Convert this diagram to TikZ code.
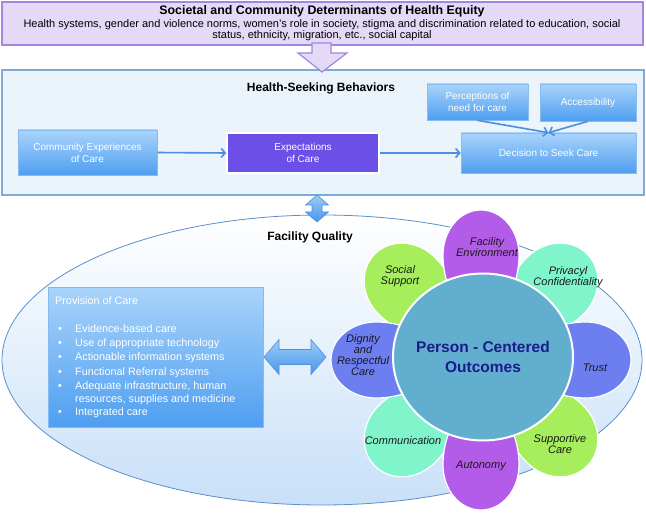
\documentclass[tikz,border=0pt]{standalone}
\usepackage{fontspec}
\setmainfont{Liberation Sans}
\usetikzlibrary{arrows.meta,shapes.geometric,calc}
\definecolor{lavfill}{HTML}{E4DAF8}
\definecolor{lavdraw}{HTML}{A186E2}
\definecolor{hsbfill}{HTML}{EBF3FB}
\definecolor{hsbdraw}{HTML}{7EAADB}
\definecolor{btop}{HTML}{A9D4FB}
\definecolor{bbot}{HTML}{4E9EF0}
\definecolor{bdraw}{HTML}{86BAF0}
\definecolor{expfill}{HTML}{6B4FE7}
\definecolor{flowc}{HTML}{4A8FE0}
\definecolor{ellfill}{HTML}{C8E0F8}
\definecolor{elldraw}{HTML}{5A8FCF}
\definecolor{ppurple}{HTML}{B45CEA}
\definecolor{pmint}{HTML}{80F5CB}
\definecolor{pviolet}{HTML}{6D7EF1}
\definecolor{plime}{HTML}{A6EE5B}
\definecolor{pcenter}{HTML}{62AECE}
\definecolor{pcotext}{HTML}{1B1A8E}
\definecolor{arrtop}{HTML}{9ACDF8}
\definecolor{arrbot}{HTML}{4A95EA}
\definecolor{arrdraw}{HTML}{4F8FDB}
\newcommand\fsz[2]{\fontsize{#1}{#2}\selectfont}
% #1 angle, #2 colour, #3 half width
\newcommand\mypetal[3]{%
  \begin{scope}[shift={(481,360)},rotate=#1]
    \draw[petalshape,fill=#2] (45pt,0pt) .. controls (45pt,0.552*#3pt) and (72pt,#3pt) .. (105pt,#3pt)
      .. controls (130pt,#3pt) and (150pt,0.552*#3pt) .. (150pt,0pt)
      .. controls (150pt,-0.552*#3pt) and (130pt,-#3pt) .. (105pt,-#3pt)
      .. controls (72pt,-#3pt) and (45pt,-0.552*#3pt) .. (45pt,0pt) -- cycle;
  \end{scope}}
\begin{document}
\begin{tikzpicture}[x=1pt,y=-1pt,
  bluebox/.style={rectangle,draw=bdraw,line width=0.6pt,top color=btop,bottom color=bbot,
    text=white,font=\fsz{10}{12},align=center,inner sep=0pt},
  flow/.style={draw=flowc,line width=1.6pt,-{Straight Barb[length=4pt,width=9pt,line width=1.6pt]}},
  petalshape/.style={draw=white,line width=1.2pt},
  plabel/.style={font=\itshape\fsz{11}{11},align=center,inner sep=0pt,text=black!90},
  blockarrow/.style={draw=arrdraw,line width=0.6pt,top color=arrtop,bottom color=arrbot}]
\useasboundingbox (0,0) rectangle (646,516);
\fill[white] (0,0) rectangle (646,516);

% top box
\node[rectangle,draw=lavdraw,line width=1.6pt,fill=lavfill,minimum width=641pt,minimum height=43pt,inner sep=0pt] (top) at (322.5,23.5) {};
\node[font=\bfseries\fsz{12.4}{14},inner sep=0pt] (toptitle) at (322,11) {Societal and Community Determinants of Health Equity};
\node[font=\fsz{11}{11},align=center,inner sep=0pt] (toptext) at (322,30.5) {Health systems, gender and violence norms, women's role in society, stigma and discrimination related to education, social\\status, ethnicity, migration, etc., social capital};

% health seeking box
\node[rectangle,draw=hsbdraw,line width=1.2pt,fill=hsbfill,minimum width=642pt,minimum height=125pt,inner sep=0pt] (hsb) at (323,132.5) {};
\draw[draw=lavdraw,line width=1.2pt,fill=lavfill] (312,43) -- (331,43) -- (331,53) -- (347,53) -- (322,72) -- (298,53) -- (312,53) -- cycle;
\node[font=\bfseries\fsz{12}{14},inner sep=0pt] (hsbtitle) at (321,88) {Health-Seeking Behaviors};
\node[bluebox,minimum width=101pt,minimum height=36pt] (perc) at (477.5,102) {Perceptions of\\need for care};
\node[bluebox,minimum width=96pt,minimum height=37pt] (acc) at (588,102.5) {Accessibility};
\node[bluebox,minimum width=139pt,minimum height=45pt] (com) at (87.5,152.5) {Community Experiences\\of Care};
\node[rectangle,draw=white,line width=1.5pt,fill=expfill,text=white,font=\fsz{10}{12},align=center,inner sep=0pt,minimum width=152pt,minimum height=40pt] (exp) at (303,153) {Expectations\\of Care};
\node[bluebox,minimum width=175pt,minimum height=40pt] (dec) at (548.5,153) {Decision to Seek Care};
\draw[flow] (com.east) -- (exp.west);
\draw[flow] (exp.east) -- (dec.west);
\draw[flow] (perc.south) -- (dec.north);
\draw[flow] (acc.south) -- (dec.north);

% facility quality ellipse
\node[ellipse,draw=elldraw,line width=0.8pt,top color=white,bottom color=ellfill,minimum width=640pt,minimum height=290pt,inner sep=0pt] (fq) at (322,360) {};
\draw[blockarrow] (317,195) -- (328.5,205) -- (322,205) -- (322,212) -- (328.5,212) -- (317,222) -- (305.5,212) -- (312,212) -- (312,205) -- (305.5,205) -- cycle;
\node[font=\bfseries\fsz{12}{14},inner sep=0pt] (fqtitle) at (310,237) {Facility Quality};

% provision of care
\node[rectangle,draw=bdraw,line width=0.6pt,top color=btop,bottom color=bbot,minimum width=215pt,minimum height=140pt,inner sep=0pt] (prov) at (155.5,357) {};
\node[anchor=north west,text=white,font=\fsz{10.8}{14.3},align=left,inner sep=0pt] (provtext) at (55,296) {Provision of Care\\[14pt]
\makebox[20pt][l]{\hspace{3pt}•}Evidence-based care\\
\makebox[20pt][l]{\hspace{3pt}•}Use of appropriate technology\\
\makebox[20pt][l]{\hspace{3pt}•}Actionable information systems\\
\makebox[20pt][l]{\hspace{3pt}•}Functional Referral systems\\
\makebox[20pt][l]{\hspace{3pt}•}Adequate infrastructure, human\\[-1.3pt]
\makebox[20pt][l]{}resources, supplies and medicine\\[-1.3pt]
\makebox[20pt][l]{\hspace{3pt}•}Integrated care};
\draw[blockarrow] (264,357) -- (279,339.5) -- (279,349.5) -- (311,349.5) -- (311,339.5) -- (326,357) -- (311,374.5) -- (311,364.5) -- (279,364.5) -- (279,374.5) -- cycle;

% petals
\mypetal{135}{plime}{40}
\mypetal{45}{pmint}{40}
\mypetal{-45}{plime}{40}
\mypetal{-135}{pmint}{40}
\mypetal{90}{ppurple}{38}
\mypetal{0}{pviolet}{38}
\mypetal{-90}{ppurple}{38}
\mypetal{180}{pviolet}{38}

\node[ellipse,draw=white,line width=2pt,fill=pcenter,minimum width=180pt,minimum height=167pt,inner sep=0pt] (pco) at (483,357) {};
\node[font=\bfseries\fsz{15.5}{20},text=pcotext,align=center,inner sep=0pt] (pcotxt) at (483,357) {Person - Centered\\Outcomes};

\node[plabel] (lfac) at (487,247) {Facility\\Environment};
\node[plabel] (lpriv) at (568,277) {Privacyl\\Confidentiality};
\node[plabel] (lsoc) at (400,276) {Social\\Support};
\node[plabel] (ldig) at (363,355) {Dignity\\and\\Respectful\\Care};
\node[plabel] (ltrust) at (595,368) {Trust};
\node[plabel] (lsup) at (560,444) {Supportive\\Care};
\node[plabel] (lcom) at (403,441) {Communication};
\node[plabel] (laut) at (481,466) {Autonomy};
\end{tikzpicture}
\end{document}
